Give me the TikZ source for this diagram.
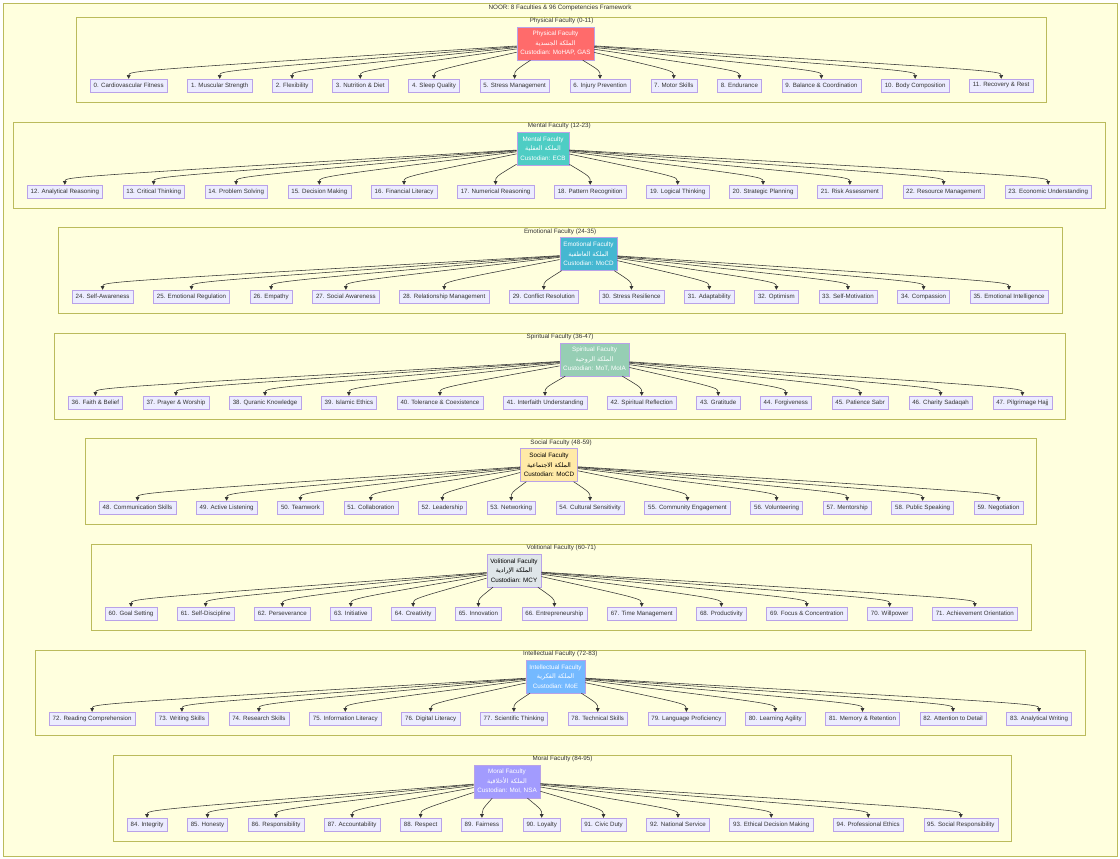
\documentclass[tikz,border=0pt]{standalone}
\usepackage{fontspec}
\setmainfont{Liberation Sans}
\newfontfamily\arabicfont[Script=Arabic]{DejaVu Sans}
\TeXXeTstate=1
\usetikzlibrary{arrows.meta,calc,fit,positioning,backgrounds}

\definecolor{clusterfill}{HTML}{FFFFDE}
\definecolor{clusterline}{HTML}{AAAA33}
\definecolor{leaffill}{HTML}{ECECFF}
\definecolor{leafline}{HTML}{9370DB}
\definecolor{inktext}{HTML}{333333}
\definecolor{physical}{HTML}{FF6B6B}
\definecolor{mental}{HTML}{4ECDC4}
\definecolor{emotional}{HTML}{45B7D1}
\definecolor{spiritual}{HTML}{96CEB4}
\definecolor{social}{HTML}{FFEAA7}
\definecolor{volitional}{HTML}{DFE6E9}
\definecolor{intellectual}{HTML}{74B9FF}
\definecolor{moral}{HTML}{A29BFE}

\begin{document}
\begin{tikzpicture}[
      x=1pt, y=1pt,
      every node/.style={font=\fontsize{6.3}{9.5}\selectfont, text=inktext},
      leaf/.style={
          rectangle,
          draw=leafline!65,
          fill=leaffill,
          line width=0.4pt,
          minimum height=13pt,
          inner xsep=3.5pt,
          inner ysep=1pt,
          font=\fontsize{6.15}{8}\selectfont
        },
      faculty/.style={
          rectangle,
          draw=leafline!65,
          line width=0.4pt,
          minimum height=33pt,
          inner xsep=3.5pt,
          inner ysep=2pt,
          align=center
        },
      cluster/.style={
          rectangle,
          draw=clusterline!80,
          fill=clusterfill,
          line width=0.4pt,
          inner xsep=13.5pt,
          inner ysep=10pt
        },
      title/.style={anchor=north, inner sep=1.5pt},
      edge/.style={draw=inktext, line width=0.55pt, -{Triangle[length=3.6pt,width=3.6pt]}}
    ]
    \useasboundingbox (0,0) rectangle (1120,-859);

    % Faculties and the start of each row of competencies
    \foreach \fname/\arab/\cust/\col/\ink/\pos/\row [count=\r from 0] in {
        Physical/{الملكة الجسدية}/{MoHAP, GAS}/physical/white/{555.5,-43.5}/{90,-85.5},
        Mental/{الملكة العقلية}/{ECB}/mental/white/{543,-148.5}/{27,-191.5},
        Emotional/{الملكة العاطفية}/{MoCD}/emotional/white/{588.5,-254}/{72,-296.5},
        Spiritual/{الملكة الروحية}/{MoT, MoIA}/spiritual/white/{594.5,-359.5}/{68,-402.5},
        Social/{الملكة الاجتماعية}/{MoCD}/social/black/{549,-465}/{99,-507.5},
        Volitional/{الملكة الإرادية}/{MCY}/volitional/black/{514,-570.5}/{105,-613.5},
        Intellectual/{الملكة الفكرية}/{MoE}/intellectual/white/{555.5,-676.5}/{49,-718.5},
        Moral/{الملكة الأخلاقية}/{MoI, NSA}/moral/white/{507,-781.5}/{127,-824.5}} {
      \node[faculty, fill=\col, text=\ink] (fac\r) at (\pos)
        {\fname\ Faculty\\{\arabicfont\beginR\arab\endR}\\Custodian: \cust};
      \coordinate (row\r) at (\row);
    }

    % Competencies, twelve per row
    \foreach \txt [count=\k from 0] in {
        Cardiovascular Fitness, Muscular Strength, Flexibility, Nutrition \& Diet,
        Sleep Quality, Stress Management, Injury Prevention, Motor Skills, Endurance,
        Balance \& Coordination, Body Composition, Recovery \& Rest,
        Analytical Reasoning, Critical Thinking, Problem Solving, Decision Making,
        Financial Literacy, Numerical Reasoning, Pattern Recognition, Logical Thinking,
        Strategic Planning, Risk Assessment, Resource Management, Economic Understanding,
        Self-Awareness, Emotional Regulation, Empathy, Social Awareness,
        Relationship Management, Conflict Resolution, Stress Resilience, Adaptability,
        Optimism, Self-Motivation, Compassion, Emotional Intelligence,
        Faith \& Belief, Prayer \& Worship, Quranic Knowledge, Islamic Ethics,
        Tolerance \& Coexistence, Interfaith Understanding, Spiritual Reflection, Gratitude,
        Forgiveness, Patience Sabr, Charity Sadaqah, Pilgrimage Hajj,
        Communication Skills, Active Listening, Teamwork, Collaboration, Leadership,
        Networking, Cultural Sensitivity, Community Engagement, Volunteering, Mentorship,
        Public Speaking, Negotiation,
        Goal Setting, Self-Discipline, Perseverance, Initiative, Creativity, Innovation,
        Entrepreneurship, Time Management, Productivity, Focus \& Concentration,
        Willpower, Achievement Orientation,
        Reading Comprehension, Writing Skills, Research Skills, Information Literacy,
        Digital Literacy, Scientific Thinking, Technical Skills, Language Proficiency,
        Learning Agility, Memory \& Retention, Attention to Detail, Analytical Writing,
        Integrity, Honesty, Responsibility, Accountability, Respect, Fairness, Loyalty,
        Civic Duty, National Service, Ethical Decision Making, Professional Ethics,
        Social Responsibility} {
      \pgfmathtruncatemacro\r{div(\k,12)}
      \pgfmathtruncatemacro\c{mod(\k,12)}
      \pgfmathtruncatemacro\prev{\k-1}
      \ifnum\c=0
        \node[leaf, anchor=west] (comp\k) at (row\r) {\k. \txt};
      \else
        \node[leaf, right=20pt of comp\prev] (comp\k) {\k. \txt};
      \fi
    }

    % Arrows from each faculty down to its competencies
    \foreach \k in {0,...,95} {
      \pgfmathtruncatemacro\r{div(\k,12)}
      \draw[edge] (fac\r) .. controls ($(comp\k.north)+(0,8)$) .. (comp\k.north);
    }

    % Frames behind everything
    \begin{scope}[on background layer]
      \draw[clusterline!80, fill=clusterfill, line width=0.4pt] (3,-3) rectangle (1117,-856);
      \node[title] (maintitle) at (560,-3) {NOOR: 8 Faculties \& 96 Competencies Framework};
      \foreach \fname/\first [count=\r from 0] in {
          Physical/0, Mental/12, Emotional/24, Spiritual/36,
          Social/48, Volitional/60, Intellectual/72, Moral/84} {
        \pgfmathtruncatemacro\last{\first+11}
        \node[cluster, fit=(fac\r)(comp\first)(comp\last),
          label={[title]north:\fname\ Faculty (\first-\last)}] (group\r) {};
      }
    \end{scope}
  \end{tikzpicture}
\end{document}
